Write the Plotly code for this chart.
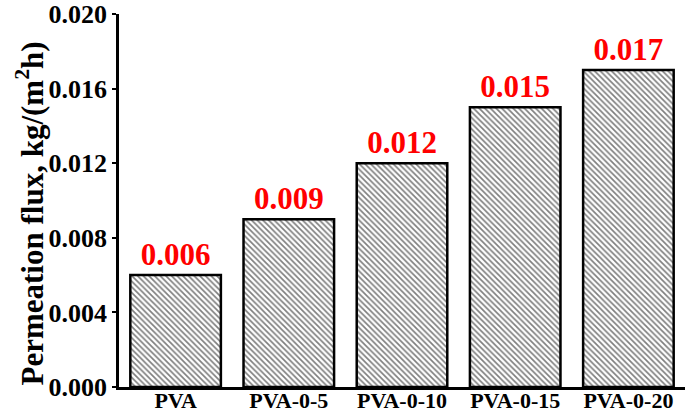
import plotly.graph_objects as go

categories = ["PVA", "PVA-0-5", "PVA-0-10", "PVA-0-15", "PVA-0-20"]
flux = [0.006, 0.009, 0.012, 0.015, 0.017]
labels = ["0.006", "0.009", "0.012", "0.015", "0.017"]
yticks = [0.000, 0.004, 0.008, 0.012, 0.016, 0.020]
yticklabels = ["0.000", "0.004", "0.008", "0.012", "0.016", "0.020"]
ytitle = "Permeation flux, kg/(m<sup>2</sup>h)"

font = "Liberation Serif, Times New Roman, serif"

fig = go.Figure(go.Bar(
    x=categories, y=flux, text=labels, textposition="outside",
    textfont=dict(family=font, size=31, color="#ff0000", weight="bold"),
    cliponaxis=False,
    width=0.8,
    marker=dict(color="white",
                line=dict(color="black", width=2.5),
                pattern=dict(shape="\\", fgcolor="black", bgcolor="white",
                             size=4, solidity=0.42)),
))

fig.update_layout(
    width=692, height=417,
    margin=dict(l=119, r=7, t=14, b=30),
    plot_bgcolor="white", paper_bgcolor="white",
    showlegend=False,
    bargap=0.2,
)
fig.update_xaxes(
    automargin=False,
    showline=True, linecolor="black", linewidth=2.5,
    ticks="", showgrid=False, ticklabelstandoff=-8,
    ticklabeloverflow="allow",
    tickfont=dict(family=font, size=22, color="black", weight="bold"),
)
fig.update_yaxes(
    automargin=False,
    range=[0, 0.020], tickvals=yticks, ticktext=yticklabels,
    showline=True, linecolor="black", linewidth=2.5,
    ticks="outside", ticklen=4, tickwidth=2, tickcolor="black",
    showgrid=False, zeroline=False, ticklabeloverflow="allow",
    tickfont=dict(family=font, size=26, color="black", weight="bold"),
)
fig.add_annotation(
    text=ytitle, textangle=-90, showarrow=False,
    xref="paper", yref="paper", x=0, y=0.5, xshift=-89, yshift=-13,
    xanchor="center", yanchor="middle",
    font=dict(family=font, size=31, color="black", weight="bold"),
)

fig.write_html("out.html", config={"displayModeBar": False},
               post_script="document.body.style.margin='0px';")
